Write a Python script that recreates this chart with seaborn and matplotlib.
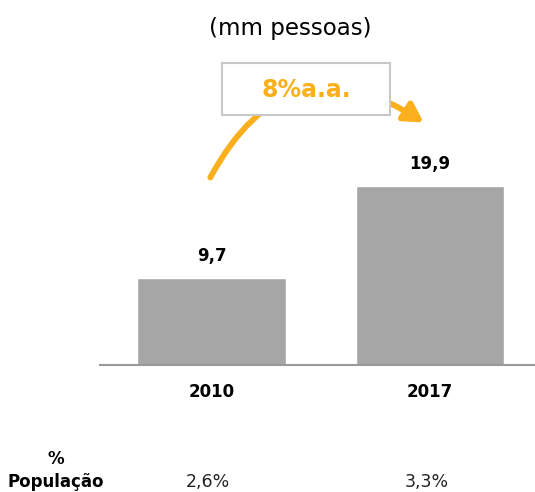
import matplotlib
matplotlib.use("Agg")
import matplotlib.pyplot as plt
import seaborn as sns
import pandas as pd
from matplotlib.patches import FancyArrowPatch, Rectangle

# data
years = ["2010", "2017"]
values = [9.7, 19.9]
value_labels = ["9,7", "19,9"]
pop_share = ["2,6%", "3,3%"]
growth_label = "8%a.a."
title = "(mm pessoas)"

W, H = 535, 492
ORANGE = "#F9B01C"
GREY_BAR = "#A6A6A6"


def fx(x):
    return x / W


def fy(y):
    return 1 - y / H


sns.set_style("white")
plt.rcParams["font.family"] = ["DejaVu Sans"]

fig = plt.figure(figsize=(W / 100, H / 100), dpi=100)
ax = fig.add_axes([fx(100), fy(365), fx(435), (365 - 40) / H])

df = pd.DataFrame({"year": years, "value": values})
sns.barplot(data=df, x="year", y="value", color=GREY_BAR, width=0.68,
            saturation=1, ax=ax)

ax.set_xlim(-0.51, 1.48)
ax.set_ylim(0, 325 / 9.0)
ax.set_xlabel("")
ax.set_ylabel("")
ax.set_yticks([])
for s in ["top", "right", "left"]:
    ax.spines[s].set_visible(False)
ax.spines["bottom"].set_color("#9A9A9A")
ax.spines["bottom"].set_linewidth(1.5)
ax.tick_params(axis="x", length=0, pad=13, colors="black")
for lbl in ax.get_xticklabels():
    lbl.set_fontweight("bold")
    lbl.set_fontsize(12)

ax.bar_label(ax.containers[0], labels=value_labels, padding=9,
             fontsize=12, fontweight="bold", color="black")

# title
fig.text(fx(290), fy(28), title, ha="center", va="center", fontsize=16.5,
         color="black")

# growth arrow and box
arrow = FancyArrowPatch((fx(209), fy(180)), (fx(426), fy(124)),
                        transform=fig.transFigure,
                        connectionstyle="arc3,rad=-0.55",
                        arrowstyle="-|>,head_length=7,head_width=4",
                        color=ORANGE, lw=4.2, mutation_scale=1.6)
fig.add_artist(arrow)
box = Rectangle((fx(222), fy(115)), fx(168), 52 / H, transform=fig.transFigure,
                facecolor="white", edgecolor="#C8C8C8", lw=1.5, zorder=5)
fig.add_artist(box)
fig.text(fx(306), fy(90), growth_label, ha="center", va="center",
         fontsize=17, fontweight="bold", color=ORANGE, zorder=6)

# population share row
fig.text(fx(56), fy(459), "%", ha="center", va="center",
         fontsize=12, fontweight="bold", color="black")
fig.text(fx(56), fy(482), "População", ha="center", va="center",
         fontsize=12, fontweight="bold", color="black")
for i, s in enumerate(pop_share):
    xpix = 208 + i * 219
    fig.text(fx(xpix), fy(482), s, ha="center", va="center", fontsize=12.5,
             color="#222222")

fig.savefig("out.png", dpi=100)
